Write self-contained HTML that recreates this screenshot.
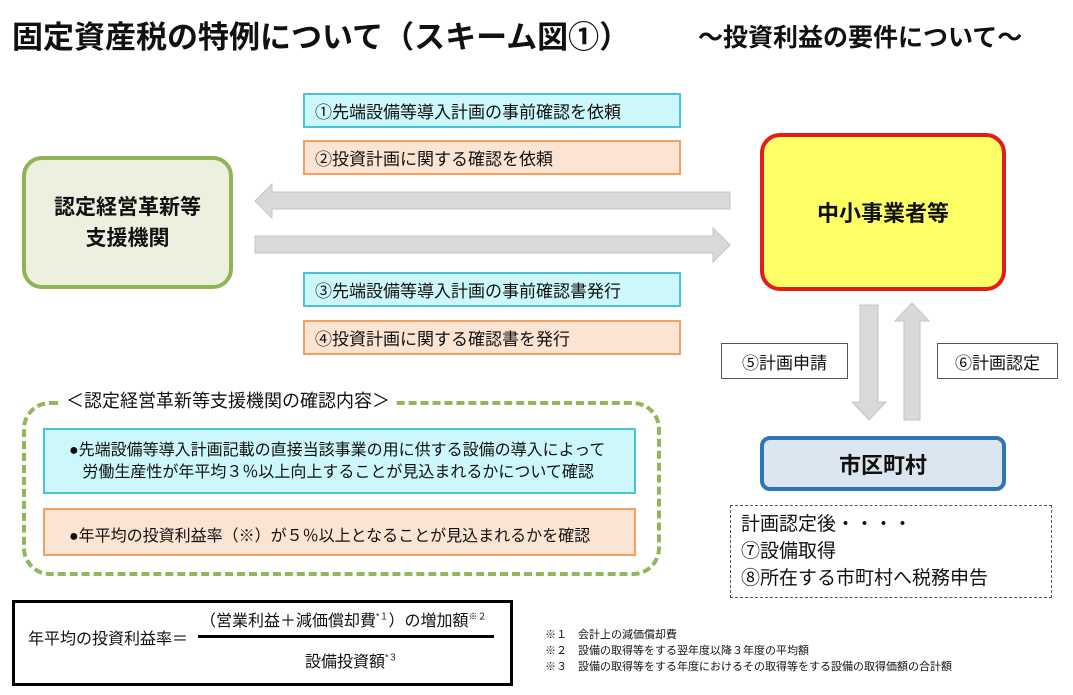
<!DOCTYPE html>
<html><head><meta charset="utf-8"><style>
body{margin:0;width:1073px;height:695px;background:#fff;position:relative;overflow:hidden;font-family:"Liberation Sans","Noto Sans CJK JP",sans-serif;color:#111}
.a{position:absolute;box-sizing:border-box}
.lb{font-size:17px;display:flex;align-items:center;padding-left:10px;white-space:nowrap}
.cy{background:#ccf7fb;border:2px solid #4bc2d8}
.or{background:#fce4d2;border:2px solid #f0a060}
.c{display:flex;align-items:center;justify-content:center;text-align:center}
</style></head><body>
<div class="a" style="left:12px;top:12px;font-size:31px;font-weight:bold;white-space:nowrap">固定資産税の特例について（スキーム図①）</div>
<div class="a" style="left:698px;top:18px;font-size:25px;font-weight:bold;white-space:nowrap">～投資利益の要件について～</div>

<div class="a lb cy" style="left:303px;top:93px;width:378px;height:35px">①先端設備等導入計画の事前確認を依頼</div>
<div class="a lb or" style="left:303px;top:140px;width:378px;height:35px">②投資計画に関する確認を依頼</div>
<div class="a lb cy" style="left:303px;top:272px;width:378px;height:35px">③先端設備等導入計画の事前確認書発行</div>
<div class="a lb or" style="left:303px;top:320px;width:378px;height:35px">④投資計画に関する確認書を発行</div>

<div class="a c" style="left:22px;top:156px;width:211px;height:133px;border:4px solid #8fb458;border-radius:20px;background:#ebf1de;font-size:21px;font-weight:bold;line-height:31px">認定経営革新等<br>支援機関</div>
<div class="a c" style="left:760px;top:133px;width:246px;height:158px;border:4px solid #e51c1c;border-radius:20px;background:#ffff66;font-size:22px;font-weight:bold">中小事業者等</div>

<svg class="a" style="left:0;top:0" width="1073" height="695">
<g fill="#d9d9d9" stroke="#c4c4c4" stroke-width="1">
<polygon points="255,201 272,184 272,192 730,192 730,209 272,209 272,218"/>
<polygon points="730,245 713,228 713,236 255,236 255,253 713,253 713,262"/>
<polygon points="860,305 878,305 878,402 886,402 869,420 852,402 860,402"/>
<polygon points="904,420 920,420 920,321 929,321 912,303 895,321 904,321"/>
</g>
</svg>

<div class="a c" style="left:721px;top:343px;width:127px;height:36px;border:1px solid #555;font-size:17px">⑤計画申請</div>
<div class="a c" style="left:937px;top:343px;width:121px;height:36px;border:1px solid #555;font-size:17px">⑥計画認定</div>
<div class="a c" style="left:760px;top:436px;width:246px;height:55px;border:4px solid #2e75b6;border-radius:10px;background:#dce6f1;font-size:22px;font-weight:bold">市区町村</div>
<div class="a" style="left:730px;top:505px;width:322px;height:93px;border:1px dashed #555;font-size:19px;line-height:27px;padding:5px 0 0 10px">計画認定後・・・・<br>⑦設備取得<br>⑧所在する市町村へ税務申告</div>

<div class="a" style="left:22px;top:401px;width:639px;height:175px;border:4px dashed #92b65a;border-radius:28px"></div>
<div class="a" style="left:60px;top:387px;background:#fff;padding:0 6px;font-size:18px;white-space:nowrap">＜認定経営革新等支援機関の確認内容＞</div>
<div class="a cy" style="left:43px;top:428px;width:593px;height:66px;font-size:16px;line-height:22px;padding:10px 0 0 24px;border-width:2px;white-space:nowrap">●先端設備等導入計画記載の直接当該事業の用に供する設備の導入によって<br>&nbsp;&nbsp;&nbsp;労働生産性が年平均３％以上向上することが見込まれるかについて確認</div>
<div class="a or" style="left:43px;top:508px;width:593px;height:48px;font-size:16px;padding:12px 0 0 24px;border-width:2px;white-space:nowrap">●年平均の投資利益率（※）が５％以上となることが見込まれるかを確認</div>

<div class="a" style="left:12px;top:600px;width:501px;height:86px;border:3px solid #000"></div>
<div class="a" style="left:28px;top:625px;font-size:16px;white-space:nowrap">年平均の投資利益率＝</div>
<div class="a" style="left:200px;top:607px;font-size:16px;white-space:nowrap">（営業利益＋減価償却費<sup style="font-size:9px">*１</sup>）の増加額<sup style="font-size:9px">※２</sup></div>
<div class="a" style="left:198px;top:635px;width:296px;height:3px;background:#000"></div>
<div class="a" style="left:305px;top:648px;font-size:16px;white-space:nowrap">設備投資額<sup style="font-size:9px">*３</sup></div>
<div class="a" style="left:545px;top:627px;font-size:11px;line-height:16px;white-space:nowrap">※１　会計上の減価償却費<br>※２　設備の取得等をする翌年度以降３年度の平均額<br>※３　設備の取得等をする年度におけるその取得等をする設備の取得価額の合計額</div>
</body></html>
